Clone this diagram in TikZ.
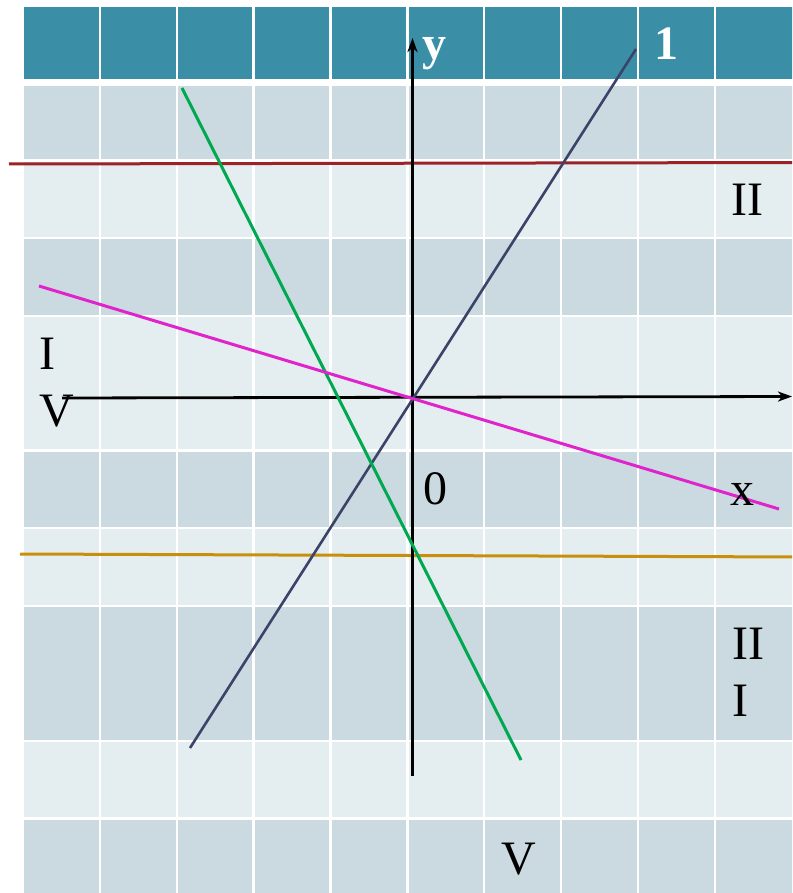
\documentclass[tikz,border=0pt]{standalone}
\usepackage{fontspec}
\setmainfont{Liberation Serif}
\usetikzlibrary{arrows.meta}
\definecolor{headteal}{RGB}{58,143,167}
\definecolor{rowdark}{RGB}{203,218,225}
\definecolor{rowlight}{RGB}{228,237,239}
\definecolor{lnavy}{RGB}{59,68,104}
\definecolor{lgreen}{RGB}{0,168,80}
\definecolor{lmagenta}{RGB}{224,36,204}
\definecolor{ldarkred}{RGB}{155,34,38}
\definecolor{lgold}{RGB}{200,144,10}

\begin{document}
\begin{tikzpicture}[
      x=1pt, y=-1pt,
      axis/.style={line width=2.8pt, black, -{Stealth[length=14pt,width=10pt,inset=4pt]}},
      graph/.style={line width=3pt, draw=#1},
      lbl/.style={font=\fontsize{48}{57}\selectfont, inner sep=0pt, anchor=base west},
      hlbl/.style={lbl, font=\fontsize{48}{57}\selectfont\bfseries, text=white},
    ]
    \useasboundingbox (0,0) rectangle (792,893);
    \clip (0,0) rectangle (792,893);

    % Table background (header row + banded rows)
    \foreach \top/\bot/\c in {7/79/headteal, 86/159/rowdark, 162/237/rowlight,
                              239/315/rowdark, 317/449/rowlight, 452/527/rowdark,
                              529/605/rowlight, 607/740/rowdark, 742/817/rowlight,
                              820/900/rowdark}
      \foreach \i in {0,...,9}
        \fill[fill=\c] ({24+76.9*\i},\top) rectangle ({\i==9 ? 800 : 24+76.9*\i+74.6},\bot);

    % Points of the axes and of the lines
    \coordinate (O)      at (412.5,397.5);
    \coordinate (ybot)   at (412.5,776);
    \coordinate (ytop)   at (412.5,38);
    \coordinate (xleft)  at (62,398);
    \coordinate (xright) at (792,396.5);
    \coordinate (redS)   at (9,164);
    \coordinate (redE)   at (800,162.5);
    \coordinate (goldS)  at (20,554);
    \coordinate (goldE)  at (800,557);
    \coordinate (navyS)  at (190,748);
    \coordinate (navyE)  at (636,49);
    \coordinate (greenS) at (182,88);
    \coordinate (greenE) at (521,760);
    \coordinate (magS)   at (39,286);
    \coordinate (magE)   at (779,509);

    % Horizontal lines
    \draw[graph=ldarkred] (redS) -- (redE);
    \draw[graph=lgold] (goldS) -- (goldE);

    % Axes
    \draw[axis] (ybot) -- (ytop);
    \draw[axis] (xleft) -- (xright);

    % Slanted lines
    \draw[graph=lnavy, line width=2.6pt] (navyS) -- (navyE);
    \draw[graph=lgreen] (greenS) -- (greenE);
    \draw[graph=lmagenta] (magS) -- (magE);

    % Labels
    \node[hlbl] (ylab) at (422,60) {y};
    \node[hlbl] (onelab) at (654,60) {1};
    \node[lbl] (q2) at (731,215) {II};
    \node[lbl, align=left, anchor=north west] (q4) at (39,338) {I\\V};
    \node[lbl] (zero) at (423,504) {0};
    \node[lbl] (xlab) at (730,505) {x};
    \node[lbl, align=left, anchor=north west] (q3) at (732,628) {II\\I};
    \node[lbl] (q5) at (501,874) {V};
\end{tikzpicture}
\end{document}
